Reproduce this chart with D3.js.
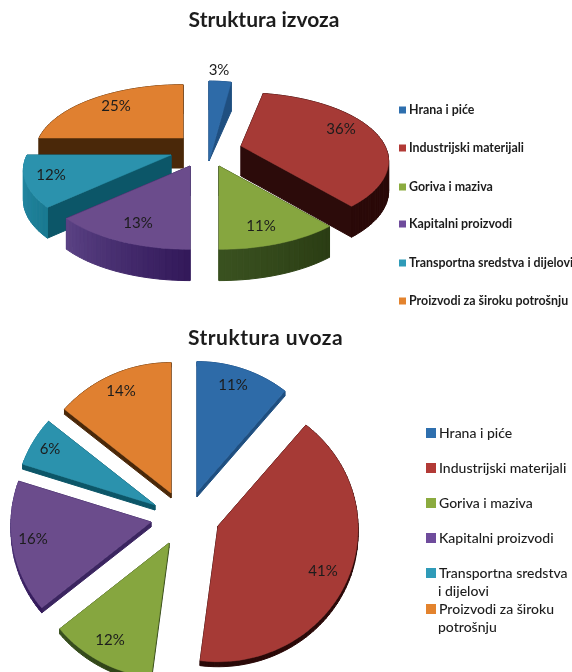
<!DOCTYPE html>
<html>
<head>
<meta charset="utf-8">
<script src="https://cdn.jsdelivr.net/npm/d3@7"></script>
<style>
  html, body { margin: 0; padding: 0; background: #fff; }
  svg { display: block; filter: blur(0.45px); }
  text { font-family: Lato, "Open Sans", sans-serif; fill: #1c1c1c; }
</style>
</head>
<body>
<svg width="572" height="672"></svg>
<script>
// chart data
const categories = [ "Hrana i piće", "Industrijski materijali", "Goriva i maziva", "Kapitalni proizvodi", "Transportna sredstva i dijelovi", "Proizvodi za široku potrošnju" ];
const izvozValues = [ 3, 36, 11, 13, 12, 25 ];
const uvozValues = [ 11, 41, 12, 16, 6, 14 ];
const izvozTitle = "Struktura izvoza";
const uvozTitle = "Struktura uvoza";
const uvozLegendLines = [ [ "Hrana i piće" ], [ "Industrijski materijali" ], [ "Goriva i maziva" ], [ "Kapitalni proizvodi" ], [ "Transportna sredstva", "i dijelovi" ], [ "Proizvodi za široku", "potrošnju" ] ];

// per slice styling, same order as categories
const topColors = [ "#2e6ba8", "#a63a36", "#86a63f", "#6b4c8c", "#2b92ad", "#e08030" ];
const cutColors = [ "#1f4f80", "#2c0b0a", "#35491a", "#3b2560", "#0c5668", "#4a2809" ];
const rimColors = [ [ "#1f4f80", "#1f4f80" ], [ "#2c0b0a", "#2a0908" ], [ "#2b3d14", "#3a5220" ], [ "#33195a", "#5c4486" ], [ "#1a7a92", "#2a8fab" ], [ "#4a2809", "#4a2809" ] ];
const legendColors = [ "#2e6fae", "#b23a36", "#8bab3f", "#6f4c9c", "#2f9bb8", "#e3832e" ];

var svg = d3.select( "svg" );
var line = d3.line();

var izvozLayout = {
  rx: 144, ry: 65, persp: 0.22, depth: 30,
  // slice tip on the page: this is how far each slice was pulled out
  tips: [ [ 209, 161 ], [ 241, 146 ], [ 219, 166 ], [ 190, 166 ], [ 171, 155 ], [ 183, 138 ] ],
  ryScale: [ 1.5, 1, 1, 1, 1, 1 ],
  tipDepth: [ 0, 1, 1, 1, 1, 1 ],
  order: [ 5, 0, 1, 4, 3, 2 ],
  labels: [ [ 219, 70 ], [ 341, 129 ], [ 261, 226 ], [ 138, 223 ], [ 51, 175 ], [ 116, 106 ] ],
  labelSize: 15
};

var uvozLayout = {
  rx: 140, ry: 133, persp: 0.02, depth: 5,
  tips: [ [ 197, 492 ], [ 218, 526 ], [ 169, 543 ], [ 151, 522 ], [ 155, 505 ], [ 171, 493 ] ],
  ryScale: [ 1, 1, 1, 1, 1, 1 ],
  tipDepth: [ 1, 1, 1, 1, 1, 1 ],
  order: [ 5, 0, 4, 3, 2, 1 ],
  labels: [ [ 233, 385 ], [ 323, 571 ], [ 110, 640 ], [ 33, 539 ], [ 50, 449 ], [ 121, 391 ] ],
  labelSize: 15
};

//Draws one exploded pie, every slice extruded downwards and seen in perspective
function drawPie( values, layout ) {
  var arcs = d3.pie().sort( null )( values );
  var g = svg.append( "g" );

  layout.order.forEach( function ( i ) {
    var arc = arcs[ i ], tip = layout.tips[ i ];
    var slice = g.append( "g" ).attr( "class", "slice" );

    // plane coordinates -> page, things nearer to the viewer get bigger
    function project( u, v, z ) {
      var s = 1 / ( 1 - layout.persp * v );
      return [ tip[ 0 ] + u * layout.rx * s,
        tip[ 1 ] + v * layout.ry * layout.ryScale[ i ] * s + z * layout.depth * ( 0.85 + 0.15 * s ) ];
    }

    var n = Math.max( 6, Math.ceil( ( arc.endAngle - arc.startAngle ) * 30 ) );
    var angles = d3.range( n + 1 ).map( function ( k ) {
      return arc.startAngle + ( arc.endAngle - arc.startAngle ) * k / n;
    } );
    var rimUV = angles.map( function ( a ) { return [ Math.sin( a ), -Math.cos( a ) ]; } );

    var top = [ project( 0, 0, 0 ) ].concat( rimUV.map( function ( p ) { return project( p[ 0 ], p[ 1 ], 0 ); } ) );
    var bottom = [ project( 0, 0, layout.tipDepth[ i ] ) ].concat( rimUV.map( function ( p ) { return project( p[ 0 ], p[ 1 ], 1 ); } ) );

    // side walls, back ones first
    var rimColor = d3.interpolateRgb( rimColors[ i ][ 0 ], rimColors[ i ][ 1 ] );
    var faces = top.map( function ( p, k ) {
      var next = ( k + 1 ) % top.length;
      var isCut = k === 0 || next === 0;
      return {
        points: [ p, top[ next ], bottom[ next ], bottom[ k ] ],
        color: isCut ? cutColors[ i ] : rimColor( ( k - 1 ) / n ),
        depth: ( p[ 1 ] + top[ next ][ 1 ] ) / 2
      };
    } ).sort( function ( a, b ) { return a.depth - b.depth; } );

    slice.selectAll( ".wall" )
      .data( faces )
      .enter().append( "path" )
      .attr( "class", "wall" )
      .attr( "d", function ( d ) { return line( d.points ) + "Z"; } )
      .attr( "fill", function ( d ) { return d.color; } )
      .attr( "stroke", function ( d ) { return d.color; } )
      .attr( "stroke-width", 1 );

    slice.append( "path" )
      .attr( "class", "top" )
      .attr( "d", line( top ) + "Z" )
      .attr( "fill", topColors[ i ] )
      .attr( "stroke", topColors[ i ] )
      .attr( "stroke-width", 0.5 );
  } );

  // labels go last so no slice covers them
  g.selectAll( ".pct" )
    .data( values )
    .enter().append( "text" )
    .attr( "class", "pct" )
    .attr( "x", function ( d, i ) { return layout.labels[ i ][ 0 ]; } )
    .attr( "y", function ( d, i ) { return layout.labels[ i ][ 1 ]; } )
    .attr( "dy", "0.35em" )
    .attr( "text-anchor", "middle" )
    .attr( "font-size", layout.labelSize )
    .text( function ( d ) { return d + "%"; } );
}

function drawTitle( label, x, y, spacing ) {
  svg.append( "text" )
    .attr( "x", x )
    .attr( "y", y )
    .attr( "text-anchor", "middle" )
    .attr( "font-size", 21 )
    .attr( "font-weight", 700 )
    .attr( "letter-spacing", spacing )
    .attr( "fill", "#111" )
    .text( label );
}

//Legend rows, a row can hold more than one text line
function drawLegend( rows, opts ) {
  var row = svg.append( "g" ).selectAll( "g" )
    .data( rows )
    .enter().append( "g" )
    .attr( "transform", function ( d, i ) { return "translate(" + opts.x + "," + opts.ys[ i ] + ")"; } );

  row.append( "rect" )
    .attr( "x", 0 )
    .attr( "y", -opts.box / 2 )
    .attr( "width", opts.box )
    .attr( "height", opts.box )
    .attr( "fill", function ( d, i ) { return legendColors[ i ]; } );

  row.selectAll( "text" )
    .data( function ( d ) { return d; } )
    .enter().append( "text" )
    .attr( "x", function ( d, k ) { return k === 0 ? opts.box + opts.gap : opts.box + opts.gap - 1; } )
    .attr( "y", function ( d, k ) { return k * opts.lineH; } )
    .attr( "dy", "0.35em" )
    .attr( "font-size", opts.size )
    .attr( "font-weight", opts.weight )
    .text( function ( d ) { return d; } );
}

drawTitle( izvozTitle, 264, 27, 0 );
drawPie( izvozValues, izvozLayout );
drawLegend( categories.map( function ( c ) { return [ c ]; } ), {
  x: 399, ys: [ 110, 148, 187, 224, 263, 301 ], box: 7, gap: 3, lineH: 14, size: 12.4, weight: 700
} );

drawTitle( uvozTitle, 265.5, 345, 0.5 );
drawPie( uvozValues, uvozLayout );
drawLegend( uvozLegendLines, {
  x: 426, ys: [ 433, 468, 503, 538, 573, 609 ], box: 10, gap: 3, lineH: 18, size: 14, weight: 500
} );
</script>
</body>
</html>
